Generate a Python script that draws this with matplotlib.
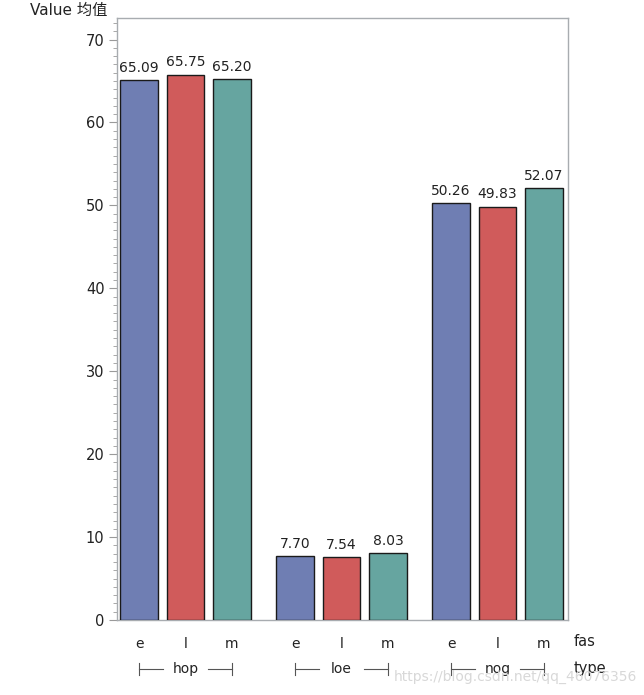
import matplotlib.pyplot as plt
from matplotlib.ticker import MultipleLocator
from matplotlib.transforms import blended_transform_factory
import numpy as np

plt.rcParams['font.family'] = ['DejaVu Sans', 'Noto Sans CJK SC']

# data
types = ['hop', 'loe', 'nog']
fas = ['e', 'l', 'm']
val_e = [65.09, 7.70, 50.26]
val_l = [65.75, 7.54, 49.83]
val_m = [65.20, 8.03, 52.07]
colors = ['#6F7EB3', '#D05B5B', '#66A5A0']

fig = plt.figure(figsize=(6.44, 6.95), dpi=100)
ax = fig.add_axes([0.1817, 0.1079, 0.7003, 0.8662])

step = 0.298
width = 0.24
groups = np.arange(len(types))
series = [val_e, val_l, val_m]

tick_pos = []
tick_lab = []
for i, (vals, c) in enumerate(zip(series, colors)):
    xs = groups + (i - 1) * step
    ax.bar(xs, vals, width=width, color=c, edgecolor='#1a1a1a', linewidth=1.0, zorder=3)
    for x, v in zip(xs, vals):
        ax.annotate(f'{v:.2f}', (x, v), xytext=(0, 4), textcoords='offset points',
                    ha='center', va='bottom', fontsize=10, color='#222222')
for g in groups:
    for i, f in enumerate(fas):
        tick_pos.append(g + (i - 1) * step)
        tick_lab.append(f)

ax.set_xlim(-0.439, 2.452)
ax.set_ylim(0, 72.6)
ax.set_xticks(tick_pos)
ax.set_xticklabels(tick_lab, fontsize=10, color='#222222')
ax.tick_params(axis='x', length=0, pad=12)

ax.set_yticks(np.arange(0, 71, 10))
ax.yaxis.set_minor_locator(MultipleLocator(1))
ax.tick_params(axis='y', which='major', length=6, color='#9a9a9a', labelsize=10.5, labelcolor='#222222', pad=3)
ax.tick_params(axis='y', which='minor', length=3, color='#9a9a9a')

for s in ax.spines.values():
    s.set_color('#a8acb0')
    s.set_linewidth(1.0)

# axis titles
fig.text(0.047, 1 - 15 / 695, 'Value 均值', fontsize=11, color='#222222', ha='left', va='baseline')
fig.text(585 / 644, 1 - 641 / 695, 'fas', fontsize=10.5, color='#222222', ha='center', va='center')
fig.text(590 / 644, 1 - 669 / 695, 'type', fontsize=10.5, color='#222222', ha='center', va='center')

# group brackets under the fas labels
tr = blended_transform_factory(ax.transData, fig.transFigure)
yb = 1 - 669 / 695
hh = 6 / 695
gap = 0.144
for g, t in zip(groups, types):
    x0, x1 = g - step, g + step
    ax.plot([x0, g - gap], [yb, yb], transform=tr, color='#555555', lw=0.8, clip_on=False)
    ax.plot([g + gap, x1], [yb, yb], transform=tr, color='#555555', lw=0.8, clip_on=False)
    ax.plot([x0, x0], [yb - hh, yb + hh], transform=tr, color='#555555', lw=0.8, clip_on=False)
    ax.plot([x1, x1], [yb - hh, yb + hh], transform=tr, color='#555555', lw=0.8, clip_on=False)
    ax.text(g, yb, t, transform=tr, ha='center', va='center', fontsize=10, color='#222222')

# watermark present in the reference image
fig.text(0.99, 1 - 677 / 695, 'https://blog.csdn.net/qq_46076356', fontsize=10,
         color='#d8d8d8', ha='right', va='center')

fig.savefig('out.png', dpi=100)
